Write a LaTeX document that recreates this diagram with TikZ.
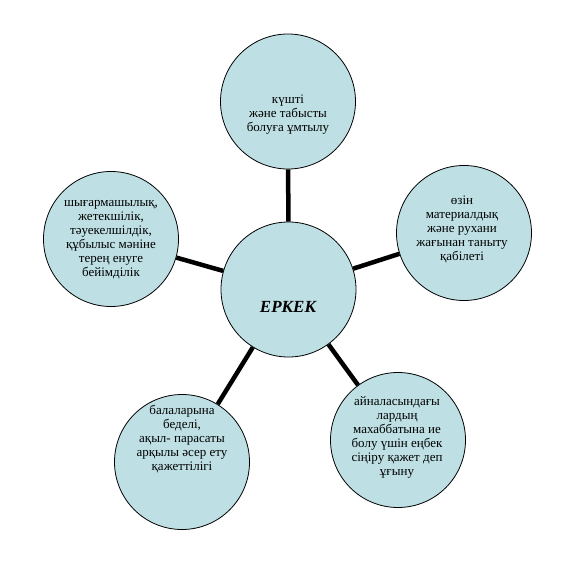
\documentclass[tikz,border=0pt]{standalone}
\usepackage{fontspec}
\setmainfont{Liberation Serif}
\definecolor{bubfill}{RGB}{190,224,228}
\begin{document}
\begin{tikzpicture}[x=1pt,y=-1pt,
  bub/.style={circle, draw=black, line width=0.8pt, fill=bubfill, minimum size=135pt, inner sep=0pt},
  lbl/.style={align=center, font=\rmfamily\fontsize{13}{14}\selectfont, inner sep=0pt},
  link/.style={line width=4.5pt, black}]
\useasboundingbox (0,0) rectangle (577,577);
\node[bub] (c) at (288.5,289.5) {};
\node[bub] (t) at (288,101.5) {};
\node[bub] (r) at (464,233) {};
\node[bub] (l) at (111,239) {};
\node[bub] (bl) at (182,462) {};
\node[bub] (br) at (398,440) {};
\draw[link] (c) -- (t);
\draw[link] (c) -- (r);
\draw[link] (c) -- (l);
\draw[link] (c) -- (bl);
\draw[link] (c) -- (br);
\node[font=\bfseries\itshape\fontsize{17}{19}\selectfont, inner sep=0pt] (ct) at (288,307) {ЕРКЕК};
\node[lbl] (tt) at (288,115) {күшті\\және табысты\\болуға ұмтылу};
\node[lbl] (rt) at (462,229) {өзін\\материалдық\\және рухани\\жағынан таныту\\қабілеті};
\node[lbl] (lt) at (111,240) {шығармашылық,\\жетекшілік,\\тәуекелшілдік,\\құбылыс мәніне\\терең енуге\\бейімділік};
\node[lbl] (blt) at (182,439) {балаларына\\беделі,\\ақыл- парасаты\\арқылы әсер ету\\қажеттілігі};
\node[lbl] (brt) at (397,437) {айналасындағы\\лардың\\махаббатына ие\\болу үшін еңбек\\сіңіру қажет деп\\ұғыну};
\end{tikzpicture}
\end{document}
